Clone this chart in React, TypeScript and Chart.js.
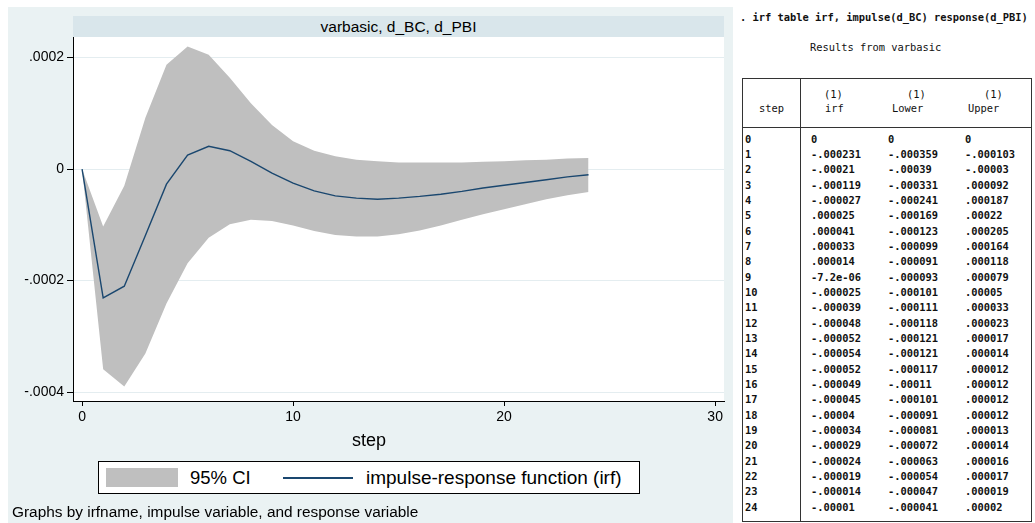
import React, { useEffect, useRef } from 'react';
import { Chart, registerables } from 'chart.js';

Chart.register(...registerables);

// ---- data (from irf table) ----
const steps = [0, 1, 2, 3, 4, 5, 6, 7, 8, 9, 10, 11, 12, 13, 14, 15, 16, 17, 18, 19, 20, 21, 22, 23, 24];
const irfValues = [0, -0.000231, -0.00021, -0.000119, -0.000027, 0.000025, 0.000041, 0.000033, 0.000014, -0.0000072, -0.000025, -0.000039, -0.000048, -0.000052, -0.000054, -0.000052, -0.000049, -0.000045, -0.00004, -0.000034, -0.000029, -0.000024, -0.000019, -0.000014, -0.00001];
const lowerValues = [0, -0.000359, -0.00039, -0.000331, -0.000241, -0.000169, -0.000123, -0.000099, -0.000091, -0.000093, -0.000101, -0.000111, -0.000118, -0.000121, -0.000121, -0.000117, -0.00011, -0.000101, -0.000091, -0.000081, -0.000072, -0.000063, -0.000054, -0.000047, -0.000041];
const upperValues = [0, -0.000103, -0.00003, 0.000092, 0.000187, 0.00022, 0.000205, 0.000164, 0.000118, 0.000079, 0.00005, 0.000033, 0.000023, 0.000017, 0.000014, 0.000012, 0.000012, 0.000012, 0.000012, 0.000013, 0.000014, 0.000016, 0.000017, 0.000019, 0.00002];
const xTickValues = [0, 10, 20, 30];
const yTickValues = [-0.0004, -0.0002, 0, 0.0002];

const subtitle = 'varbasic, d_BC, d_PBI';
const xTitle = 'step';
const ciLabel = '95% CI';
const irfLabel = 'impulse-response function (irf)';
const noteText = 'Graphs by irfname, impulse variable, and response variable';
const commandText = '. irf table irf, impulse(d_BC) response(d_PBI)';
const resultsText = 'Results from varbasic';

const BAND = '#BFBFBF';
const LINE = '#1A476F';
const BG = '#EAF2F3';
const STRIP = '#D9E6EB';
const SANS = '"Liberation Sans", Arial, sans-serif';
const MONO = '"DejaVu Sans Mono", "Liberation Mono", monospace';

function stataNum(v: number): string {
  if (v === 0) return '0';
  if (Math.abs(v) < 1e-5) {
    const s = v.toExponential(1);
    return s.replace(/e([+-])(\d)$/, 'e$10$2');
  }
  return String(v).replace(/^(-?)0\./, '$1.');
}

const plotBg = {
  id: 'plotBg',
  beforeDraw(chart: any) {
    const { ctx, chartArea: a } = chart;
    ctx.save();
    ctx.fillStyle = '#ffffff';
    ctx.fillRect(a.left, a.top, a.right - a.left, a.bottom - a.top);
    ctx.restore();
  },
};

function Txt(props: { x: number; y: number; size: number; family?: string; weight?: any; center?: boolean; color?: string; children: any }) {
  const { x, y, size, family, weight, center, color, children } = props;
  return (
    <div
      style={{
        position: 'absolute',
        left: x,
        top: y - size * 0.6,
        fontSize: size,
        lineHeight: `${size * 1.2}px`,
        fontFamily: family || SANS,
        fontWeight: weight || 'normal',
        whiteSpace: 'pre',
        color: color || '#000',
        transform: center ? 'translateX(-50%)' : undefined,
      }}
    >
      {children}
    </div>
  );
}

function IrfChart() {
  const ref = useRef<HTMLCanvasElement | null>(null);
  useEffect(() => {
    if (!ref.current) return;
    const chart = new Chart(ref.current, {
      type: 'line',
      data: {
        datasets: [
          {
            label: 'irf',
            data: steps.map((s, i) => ({ x: s, y: irfValues[i] })),
            borderColor: LINE,
            borderWidth: 1.4,
            pointRadius: 0,
            tension: 0,
            fill: false,
          },
          {
            label: 'lower',
            data: steps.map((s, i) => ({ x: s, y: lowerValues[i] })),
            borderWidth: 0,
            borderColor: BAND,
            backgroundColor: BAND,
            pointRadius: 0,
            tension: 0,
            fill: false,
          },
          {
            label: 'upper',
            data: steps.map((s, i) => ({ x: s, y: upperValues[i] })),
            borderWidth: 0,
            borderColor: BAND,
            backgroundColor: BAND,
            pointRadius: 0,
            tension: 0,
            fill: 1,
          },
        ],
      },
      options: {
        responsive: false,
        animation: false,
        events: [],
        layout: { padding: { top: 37, right: 13, left: 0, bottom: 0 } },
        plugins: { legend: { display: false }, tooltip: { enabled: false } },
        scales: {
          x: {
            type: 'linear',
            min: -0.43,
            max: 30.42,
            afterBuildTicks: (s: any) => {
              s.ticks = xTickValues.map((v) => ({ value: v }));
            },
            afterFit: (s: any) => {
              s.height = 122;
            },
            grid: { drawOnChartArea: false, tickLength: 5, tickColor: '#000', lineWidth: 1 },
            border: { color: '#000', width: 1 },
            ticks: {
              color: '#000',
              padding: 3,
              maxRotation: 0,
              autoSkip: false,
              font: { family: SANS, size: 14 },
              callback: (v: any) => String(v),
            },
          },
          y: {
            type: 'linear',
            min: -0.000416,
            max: 0.000237,
            afterBuildTicks: (s: any) => {
              s.ticks = yTickValues.map((v) => ({ value: v }));
            },
            afterFit: (s: any) => {
              s.width = 73;
            },
            grid: { color: '#E4EDF0', tickLength: 6, tickColor: '#000', lineWidth: 1 },
            border: { color: '#000', width: 1 },
            ticks: {
              color: '#000',
              padding: 3,
              autoSkip: false,
              font: { family: SANS, size: 14 },
              callback: (v: any) => stataNum(Number(v)),
            },
          },
        },
      },
      plugins: [plotBg],
    } as any);
    return () => chart.destroy();
  }, []);
  return <canvas ref={ref} width={737} height={523} style={{ position: 'absolute', left: 0, top: 0, width: 737, height: 523 }} />;
}

function IrfTable() {
  const rowY0 = 139;
  const rowH = 15.33;
  const fs = 10.4;
  const w = 'bold';
  const col = '#111';
  return (
    <>
      <Txt x={740} y={17} size={fs} family={MONO} weight={w} color={col}>{commandText}</Txt>
      <Txt x={810} y={47} size={fs} family={MONO} weight="normal" color={col}>{resultsText}</Txt>
      <div style={{ position: 'absolute', left: 742, top: 78, width: 290, height: 444, border: '1.5px solid #333', boxSizing: 'border-box' }} />
      <div style={{ position: 'absolute', left: 742, top: 126.5, width: 290, height: 1.5, background: '#333' }} />
      <div style={{ position: 'absolute', left: 799.5, top: 78, width: 1.5, height: 444, background: '#333' }} />
      <Txt x={759} y={108} size={fs} family={MONO} color={col}>step</Txt>
      <Txt x={824} y={94} size={fs} family={MONO} color={col}>(1)</Txt>
      <Txt x={825} y={108} size={fs} family={MONO} color={col}>irf</Txt>
      <Txt x={907} y={94} size={fs} family={MONO} color={col}>(1)</Txt>
      <Txt x={892} y={108} size={fs} family={MONO} color={col}>Lower</Txt>
      <Txt x={984} y={94} size={fs} family={MONO} color={col}>(1)</Txt>
      <Txt x={968} y={108} size={fs} family={MONO} color={col}>Upper</Txt>
      {steps.map((s, i) => (
        <React.Fragment key={s}>
          <Txt x={745} y={rowY0 + i * rowH} size={fs} family={MONO} weight={w} color={col}>{String(s)}</Txt>
          <Txt x={811} y={rowY0 + i * rowH} size={fs} family={MONO} weight={w} color={col}>{stataNum(irfValues[i])}</Txt>
          <Txt x={888} y={rowY0 + i * rowH} size={fs} family={MONO} weight={w} color={col}>{stataNum(lowerValues[i])}</Txt>
          <Txt x={965} y={rowY0 + i * rowH} size={fs} family={MONO} weight={w} color={col}>{stataNum(upperValues[i])}</Txt>
        </React.Fragment>
      ))}
    </>
  );
}

export default function App() {
  return (
    <div style={{ position: 'absolute', left: 0, top: 0, width: 1035, height: 523, background: '#fff', overflow: 'hidden' }}>
      <div style={{ position: 'absolute', left: 8, top: 7, width: 725, height: 516, background: BG }} />
      <div
        style={{
          position: 'absolute',
          left: 73,
          top: 16,
          width: 651,
          height: 21,
          background: STRIP,
          fontFamily: SANS,
          fontSize: 15.5,
          lineHeight: '21px',
          textAlign: 'center',
          color: '#000',
        }}
      >
        {subtitle}
      </div>
      <IrfChart />
      <Txt x={369} y={441} size={18} center>{xTitle}</Txt>
      <div style={{ position: 'absolute', left: 98, top: 461, width: 542, height: 33, border: '1px solid #000', background: '#fff', boxSizing: 'border-box' }} />
      <div style={{ position: 'absolute', left: 106, top: 468, width: 72, height: 19, background: BAND }} />
      <Txt x={190} y={478} size={18.5}>{ciLabel}</Txt>
      <div style={{ position: 'absolute', left: 283, top: 477, width: 70, height: 1.5, background: LINE }} />
      <Txt x={366} y={478} size={19}>{irfLabel}</Txt>
      <Txt x={12} y={512} size={15.4}>{noteText}</Txt>
      <IrfTable />
    </div>
  );
}
